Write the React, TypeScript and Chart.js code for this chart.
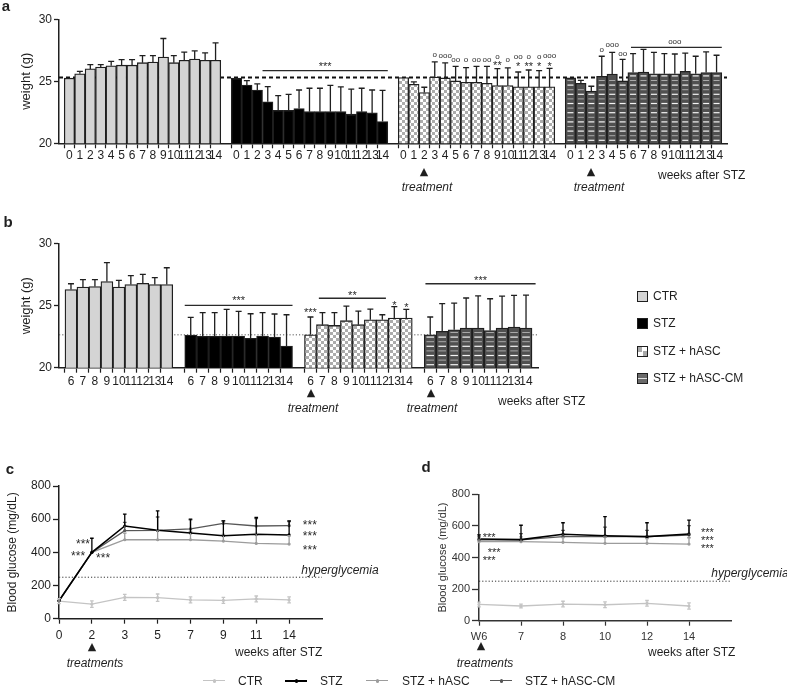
import React, { useEffect, useRef } from 'react';
import { Chart, registerables } from 'chart.js';

Chart.register(...registerables);

const FONT = '"Liberation Sans", Arial, Helvetica, sans-serif';
const INK = '#1f1f1f';
const CLEAR = 'rgba(0,0,0,0)';

// ---------- Panel a : body weight (g), weeks 0-14 ----------
const weeksA = ['0', '1', '2', '3', '4', '5', '6', '7', '8', '9', '10', '11', '12', '13', '14'];
const ctrWeightA = [25.25, 25.6, 26.0, 26.15, 26.25, 26.3, 26.3, 26.5, 26.55, 26.95, 26.5, 26.7, 26.8, 26.7, 26.7];
const ctrSdA = [0, 0.2, 0.35, 0.2, 0.35, 0.45, 0.45, 0.57, 0.52, 1.5, 0.57, 0.65, 0.65, 0.6, 1.4];
const stzWeightA = [25.25, 24.7, 24.3, 23.35, 22.65, 22.65, 22.8, 22.55, 22.55, 22.55, 22.55, 22.35, 22.55, 22.45, 21.75];
const stzSdA = [0, 0.35, 0.5, 1.22, 1.2, 1.3, 1.5, 1.89, 1.89, 2.12, 2.0, 2.02, 1.89, 1.85, 2.52];
const hascWeightA = [25.3, 24.75, 24.1, 25.35, 25.27, 25.03, 24.92, 24.92, 24.84, 24.65, 24.65, 24.55, 24.55, 24.55, 24.55];
const hascSdA = [0, 0.2, 0.42, 1.21, 1.21, 1.17, 1.18, 1.28, 1.36, 1.37, 1.43, 1.2, 1.36, 1.31, 1.5];
const cmWeightA = [25.27, 24.84, 24.22, 25.4, 25.59, 25.03, 25.7, 25.75, 25.6, 25.6, 25.6, 25.8, 25.6, 25.7, 25.7];
const cmSdA = [0, 0.24, 0.38, 1.62, 1.75, 1.74, 1.53, 1.83, 1.74, 1.63, 1.6, 1.48, 1.42, 1.67, 1.4];
const baselineA = 25.3;

// ---------- Panel b : body weight (g), weeks 6-14 ----------
const weeksB = ['6', '7', '8', '9', '10', '11', '12', '13', '14'];
const ctrWeightB = [26.3, 26.5, 26.55, 26.95, 26.5, 26.7, 26.8, 26.7, 26.7];
const ctrSdB = [0.47, 0.6, 0.55, 1.52, 0.54, 0.72, 0.73, 0.56, 1.36];
const stzWeightB = [22.63, 22.53, 22.53, 22.55, 22.55, 22.37, 22.55, 22.47, 21.75];
const stzSdB = [1.43, 1.91, 1.91, 2.15, 1.99, 1.98, 1.89, 1.86, 2.52];
const hascWeightB = [22.65, 23.47, 23.41, 23.79, 23.47, 23.87, 23.87, 24.0, 24.0];
const hascSdB = [1.44, 0.97, 1.03, 1.18, 1.1, 0.86, 0.4, 0.92, 0.7];
const cmWeightB = [22.66, 22.93, 23.06, 23.2, 23.2, 23.0, 23.2, 23.28, 23.2];
const cmSdB = [1.43, 2.23, 2.14, 2.42, 2.6, 2.56, 2.58, 2.55, 2.66];
const baselineB = 22.65;

// ---------- Panel c : blood glucose (mg/dL) ----------
const weeksC = ['0', '2', '3', '5', '7', '9', '11', '14'];
const ctrGlucC = [106, 88, 129, 127, 113, 110, 119, 113];
const ctrSdC = [15, 20, 18, 22, 18, 18, 18, 18];
const stzGlucC = [108, 400, 559, 533, 517, 500, 509, 505];
const stzSdC = [0, 85, 72, 117, 83, 90, 101, 85];
const hascGlucC = [108, 400, 476, 476, 476, 468, 454, 450];
const hascSdC = [0, 0, 40, 60, 50, 40, 60, 50];
const cmGlucC = [108, 400, 531, 533, 541, 575, 559, 561];
const cmSdC = [0, 0, 50, 80, 55, 15, 45, 25];

// ---------- Panel d : blood glucose (mg/dL) from week 6 ----------
const weeksD = ['W6', '7', '8', '10', '12', '14'];
const ctrGlucD = [103, 93, 105, 101, 110, 93];
const ctrSdD = [15, 12, 18, 18, 18, 20];
const stzGlucD = [517, 513, 547, 538, 532, 549];
const stzSdD = [26, 91, 73, 121, 88, 88];
const hascGlucD = [500, 500, 496, 490, 490, 485];
const hascSdD = [20, 30, 30, 40, 30, 40];
const cmGlucD = [511, 511, 532, 532, 532, 542];
const cmSdD = [20, 40, 40, 60, 40, 60];

const hyperglycemia = 250;

// ---------- significance annotations (x in bar/point index units, y in data units) ----------
type Note = { x: number; y: number; t: string };
type Sig = { x1: number; x2: number; y: number };

const notesA: Note[] = [
  { x: 24.5, y: 26.4, t: '***' },
  { x: 35, y: 27.12, t: 'o' },
  { x: 36, y: 27.04, t: 'ooo' },
  { x: 37, y: 26.72, t: 'oo' },
  { x: 38, y: 26.72, t: 'o' },
  { x: 39, y: 26.72, t: 'oo' },
  { x: 40, y: 26.72, t: 'oo' },
  { x: 41, y: 26.96, t: 'o' },
  { x: 41, y: 26.45, t: '**' },
  { x: 42, y: 26.72, t: 'o' },
  { x: 43, y: 26.96, t: 'oo' },
  { x: 43, y: 26.4, t: '*' },
  { x: 44, y: 26.96, t: 'o' },
  { x: 44, y: 26.4, t: '**' },
  { x: 45, y: 26.96, t: 'o' },
  { x: 45, y: 26.4, t: '*' },
  { x: 46, y: 27.04, t: 'ooo' },
  { x: 46, y: 26.4, t: '*' },
  { x: 51, y: 27.52, t: 'o' },
  { x: 52, y: 27.93, t: 'ooo' },
  { x: 53, y: 27.2, t: 'oo' },
  { x: 58, y: 28.15, t: 'ooo' },
];
const sigA: Sig[] = [
  { x1: 18.5, x2: 30.5, y: 25.86 },
  { x1: 53.8, x2: 62.5, y: 27.74 },
];

const notesB: Note[] = [
  { x: 14, y: 25.6, t: '***' },
  { x: 20, y: 24.65, t: '***' },
  { x: 23.5, y: 26.0, t: '**' },
  { x: 27, y: 25.2, t: '*' },
  { x: 28, y: 25.05, t: '*' },
  { x: 34.2, y: 27.26, t: '***' },
];
const sigB: Sig[] = [
  { x1: 9.5, x2: 18.5, y: 25.03 },
  { x1: 20.7, x2: 26.3, y: 25.6 },
  { x1: 29.6, x2: 38.8, y: 26.77 },
];

const notesC: Note[] = [
  { x: 0.73, y: 462, t: '***' },
  { x: 0.58, y: 390, t: '***' },
  { x: 1.34, y: 378, t: '***' },
  { x: 7.63, y: 577, t: '***' },
  { x: 7.63, y: 511, t: '***' },
  { x: 7.63, y: 426, t: '***' },
];
const notesD: Note[] = [
  { x: 0.24, y: 542, t: '***' },
  { x: 0.36, y: 447, t: '***' },
  { x: 0.24, y: 397, t: '***' },
  { x: 5.44, y: 574, t: '***' },
  { x: 5.44, y: 523, t: '***' },
  { x: 5.44, y: 473, t: '***' },
];

// ---------- helpers ----------
function checkerPattern(): any {
  const c = document.createElement('canvas');
  c.width = 6;
  c.height = 6;
  const g = c.getContext('2d');
  if (!g) return '#cccccc';
  g.fillStyle = '#ffffff';
  g.fillRect(0, 0, 6, 6);
  g.fillStyle = '#acacac';
  g.fillRect(0, 0, 3, 3);
  g.fillRect(3, 3, 3, 3);
  return g.createPattern(c, 'repeat') || '#cccccc';
}

function drawNotes(ctx: CanvasRenderingContext2D, xs: any, ys: any, notes: Note[], starSize: number) {
  notes.forEach((n) => {
    const ring = /^o+$/.test(n.t);
    ctx.font = ring ? `8px ${FONT}` : `${starSize}px ${FONT}`;
    ctx.fillStyle = '#2a2a2a';
    ctx.textAlign = 'center';
    ctx.textBaseline = 'middle';
    ctx.fillText(n.t, xs.getPixelForValue(n.x), ys.getPixelForValue(n.y) + (ring ? 0 : 3));
  });
}

type Group = { name: string; mean: number[]; sd: number[]; fill: any; stripes?: boolean };

function barConfig(o: {
  labels: string[];
  groups: Group[];
  ref: number;
  refDash: number[];
  refWidth: number;
  refColor: string;
  notes: Note[];
  sig: Sig[];
  padTop: number;
  padRight: number;
  xHeight: number;
  tickPad: number;
}): any {
  const n = o.labels.length;
  const slot = n + 1;
  const xmax = o.groups.length * slot - 1;
  const labelAt: Record<string, string> = {};
  const datasets = o.groups.map((g, gi) => {
    g.mean.forEach((_, i) => {
      labelAt[String(gi * slot + i)] = o.labels[i];
    });
    return {
      label: g.name,
      data: g.mean.map((v, i) => ({ x: gi * slot + i, y: v })),
      backgroundColor: g.fill,
      borderColor: INK,
      borderWidth: 1.3,
      grouped: false,
      barPercentage: 1,
      categoryPercentage: 1,
      sd: g.sd,
      stripes: !!g.stripes,
    };
  });

  const decor = {
    id: 'barDecor',
    beforeDatasetsDraw(chart: any) {
      const { ctx, chartArea: a, scales } = chart;
      const py = scales.y.getPixelForValue(o.ref);
      ctx.save();
      ctx.setLineDash(o.refDash);
      ctx.lineWidth = o.refWidth;
      ctx.strokeStyle = o.refColor;
      ctx.beginPath();
      ctx.moveTo(a.left, py);
      ctx.lineTo(a.right, py);
      ctx.stroke();
      ctx.restore();
    },
    afterDatasetsDraw(chart: any) {
      const { ctx, scales, chartArea } = chart;
      const xs = scales.x;
      const ys = scales.y;
      ctx.save();
      chart.data.datasets.forEach((ds: any, di: number) => {
        const meta = chart.getDatasetMeta(di);
        meta.data.forEach((el: any, i: number) => {
          const p = el.getProps(['x', 'y', 'base', 'width'], true);
          const base = Math.min(p.base, chartArea.bottom);
          if (ds.stripes) {
            let k = 0;
            for (let yy = base - 3; yy > p.y + 2; yy -= 4.6) {
              ctx.strokeStyle = k % 2 === 0 ? '#f4f4f4' : '#a8a8a8';
              ctx.lineWidth = k % 2 === 0 ? 1.2 : 1;
              ctx.beginPath();
              ctx.moveTo(p.x - p.width / 2 + 2.2, yy);
              ctx.lineTo(p.x + p.width / 2 - 2.2, yy);
              ctx.stroke();
              k++;
            }
          }
          const sd = ds.sd[i];
          if (sd > 0) {
            const top = ys.getPixelForValue(ds.data[i].y + sd);
            ctx.strokeStyle = INK;
            ctx.lineWidth = 1.3;
            ctx.beginPath();
            ctx.moveTo(p.x, p.y);
            ctx.lineTo(p.x, top);
            ctx.moveTo(p.x - 3, top);
            ctx.lineTo(p.x + 3, top);
            ctx.stroke();
          }
        });
      });
      ctx.strokeStyle = '#2a2a2a';
      ctx.lineWidth = 1.3;
      o.sig.forEach((s) => {
        const py = ys.getPixelForValue(s.y);
        ctx.beginPath();
        ctx.moveTo(xs.getPixelForValue(s.x1), py);
        ctx.lineTo(xs.getPixelForValue(s.x2), py);
        ctx.stroke();
      });
      drawNotes(ctx, xs, ys, o.notes, 11);
      ctx.restore();
    },
  };

  return {
    type: 'bar',
    data: { datasets },
    plugins: [decor],
    options: {
      responsive: false,
      maintainAspectRatio: false,
      animation: false,
      events: [],
      layout: { padding: { top: o.padTop, right: o.padRight, left: 0, bottom: 0 } },
      plugins: { legend: { display: false }, tooltip: { enabled: false } },
      scales: {
        x: {
          type: 'linear',
          min: -1,
          max: xmax,
          offset: false,
          grid: {
            drawOnChartArea: false,
            tickLength: 5,
            tickWidth: 1.2,
            tickColor: (c: any) => (c.tick && labelAt[String(c.tick.value)] !== undefined ? INK : CLEAR),
          },
          border: { color: INK, width: 1.5 },
          ticks: {
            stepSize: 1,
            maxTicksLimit: 200,
            autoSkip: false,
            maxRotation: 0,
            minRotation: 0,
            padding: o.tickPad,
            color: INK,
            font: { family: FONT, size: 12 },
            callback: (v: any) => labelAt[String(v)] ?? '',
          },
          afterFit: (s: any) => {
            s.height = o.xHeight;
          },
        },
        y: {
          min: 20,
          max: 30,
          beginAtZero: false,
          ticks: { stepSize: 5, padding: 2, color: INK, font: { family: FONT, size: 12 } },
          grid: { drawOnChartArea: false, tickLength: 5, tickWidth: 1.3, tickColor: INK },
          border: { color: INK, width: 1.5 },
          title: {
            display: true,
            text: 'weight (g)',
            color: INK,
            font: { family: FONT, size: 13 },
            padding: { top: 19, bottom: 0 },
          },
          afterFit: (s: any) => {
            s.width = 59;
          },
        },
      },
    },
  };
}

type Series = { name: string; data: number[]; sd: number[]; color: string; width: number; both?: boolean };

function lineConfig(o: {
  labels: string[];
  series: Series[];
  notes: Note[];
  padTop: number;
  padRight: number;
  yWidth: number;
  xHeight: number;
  tickPad: number;
  yTickLen: number;
  fontSize: number;
  axisColor: string;
  titlePad: number;
}): any {
  const nLab = o.labels.length;
  const decor = {
    id: 'lineDecor',
    beforeDatasetsDraw(chart: any) {
      const { ctx, chartArea: a, scales } = chart;
      const py = scales.y.getPixelForValue(hyperglycemia);
      ctx.save();
      ctx.setLineDash([1.2, 2]);
      ctx.lineWidth = 1;
      ctx.strokeStyle = '#333';
      ctx.beginPath();
      ctx.moveTo(a.left, py);
      ctx.lineTo(a.right, py);
      ctx.stroke();
      ctx.restore();
    },
    afterDatasetsDraw(chart: any) {
      const { ctx, scales } = chart;
      const ys = scales.y;
      ctx.save();
      for (let di = chart.data.datasets.length - 1; di >= 0; di--) {
        const ds: any = chart.data.datasets[di];
        const meta = chart.getDatasetMeta(di);
        ctx.strokeStyle = ds.borderColor;
        ctx.lineWidth = 1.3;
        meta.data.forEach((el: any, i: number) => {
          const sd = ds.sd[i];
          if (!(sd > 0)) return;
          const v = ds.data[i];
          const top = ys.getPixelForValue(v + sd);
          const bot = ds.both ? ys.getPixelForValue(v - sd) : el.y;
          ctx.beginPath();
          ctx.moveTo(el.x, bot);
          ctx.lineTo(el.x, top);
          ctx.moveTo(el.x - 1.8, top);
          ctx.lineTo(el.x + 1.8, top);
          if (ds.both) {
            ctx.moveTo(el.x - 1.8, bot);
            ctx.lineTo(el.x + 1.8, bot);
          }
          ctx.stroke();
        });
      }
      drawNotes(ctx, scales.x, ys, o.notes, o.fontSize);
      ctx.restore();
    },
  };

  return {
    type: 'line',
    data: {
      labels: [...o.labels, ''],
      datasets: o.series.map((s) => ({
        label: s.name,
        data: s.data,
        sd: s.sd,
        both: !!s.both,
        borderColor: s.color,
        backgroundColor: s.color,
        borderWidth: s.width,
        pointRadius: 1.6,
        pointBorderWidth: 0,
        pointBackgroundColor: s.color,
        tension: 0,
        fill: false,
      })),
    },
    plugins: [decor],
    options: {
      responsive: false,
      maintainAspectRatio: false,
      animation: false,
      events: [],
      layout: { padding: { top: o.padTop, right: o.padRight, left: 0, bottom: 0 } },
      plugins: { legend: { display: false }, tooltip: { enabled: false } },
      scales: {
        x: {
          type: 'category',
          offset: false,
          grid: {
            drawOnChartArea: false,
            tickLength: 5,
            tickWidth: 1.2,
            tickColor: (c: any) => (c.index < nLab ? o.axisColor : CLEAR),
          },
          border: { color: o.axisColor, width: 1.5 },
          ticks: {
            autoSkip: false,
            maxRotation: 0,
            minRotation: 0,
            padding: o.tickPad,
            color: o.axisColor,
            font: { family: FONT, size: o.fontSize },
          },
          afterFit: (s: any) => {
            s.height = o.xHeight;
          },
        },
        y: {
          min: 0,
          max: 800,
          ticks: { stepSize: 200, padding: 2, color: o.axisColor, font: { family: FONT, size: o.fontSize } },
          grid: { drawOnChartArea: false, tickLength: o.yTickLen, tickWidth: 1.3, tickColor: o.axisColor },
          border: { color: o.axisColor, width: 1.5 },
          title: {
            display: true,
            text: 'Blood glucose (mg/dL)',
            color: o.axisColor,
            font: { family: FONT, size: o.fontSize },
            padding: { top: o.titlePad, bottom: 0 },
          },
          afterFit: (s: any) => {
            s.width = o.yWidth;
          },
        },
      },
    },
  };
}

function ChartCanvas(props: { left: number; top: number; width: number; height: number; make: () => any }) {
  const ref = useRef<HTMLCanvasElement>(null);
  useEffect(() => {
    if (!ref.current) return;
    const chart = new Chart(ref.current, props.make());
    return () => chart.destroy();
  }, []);
  return (
    <canvas
      ref={ref}
      width={props.width}
      height={props.height}
      style={{ position: 'absolute', left: props.left, top: props.top, width: props.width, height: props.height }}
    />
  );
}

const C_CTR = '#c4c4c4';
const C_STZ = '#000000';
const C_HASC = '#9c9c9c';
const C_CM = '#575757';

function makeA() {
  const checker = checkerPattern();
  return barConfig({
    labels: weeksA,
    groups: [
      { name: 'CTR', mean: ctrWeightA, sd: ctrSdA, fill: '#d4d4d4' },
      { name: 'STZ', mean: stzWeightA, sd: stzSdA, fill: '#000000' },
      { name: 'STZ + hASC', mean: hascWeightA, sd: hascSdA, fill: checker },
      { name: 'STZ + hASC-CM', mean: cmWeightA, sd: cmSdA, fill: '#505050', stripes: true },
    ],
    ref: baselineA,
    refDash: [4, 3],
    refWidth: 2,
    refColor: '#111',
    notes: notesA,
    sig: sigA,
    padTop: 19.3,
    padRight: 60,
    xHeight: 56.7,
    tickPad: 0,
  });
}

function makeB() {
  const checker = checkerPattern();
  return barConfig({
    labels: weeksB,
    groups: [
      { name: 'CTR', mean: ctrWeightB, sd: ctrSdB, fill: '#d4d4d4' },
      { name: 'STZ', mean: stzWeightB, sd: stzSdB, fill: '#000000' },
      { name: 'STZ + hASC', mean: hascWeightB, sd: hascSdB, fill: checker },
      { name: 'STZ + hASC-CM', mean: cmWeightB, sd: cmSdB, fill: '#505050', stripes: true },
    ],
    ref: baselineB,
    refDash: [1.2, 2],
    refWidth: 1,
    refColor: '#555',
    notes: notesB,
    sig: sigB,
    padTop: 43.7,
    padRight: 249,
    xHeight: 42.3,
    tickPad: 2,
  });
}

function makeC() {
  return lineConfig({
    labels: weeksC,
    series: [
      { name: 'STZ', data: stzGlucC, sd: stzSdC, color: C_STZ, width: 1.6 },
      { name: 'STZ + hASC-CM', data: cmGlucC, sd: cmSdC, color: C_CM, width: 1.3 },
      { name: 'STZ + hASC', data: hascGlucC, sd: hascSdC, color: C_HASC, width: 1.3 },
      { name: 'CTR', data: ctrGlucC, sd: ctrSdC, color: C_CTR, width: 1.3, both: true },
    ],
    notes: notesC,
    padTop: 46,
    padRight: 78,
    yWidth: 59,
    xHeight: 36.3,
    tickPad: 5,
    yTickLen: 6,
    fontSize: 12,
    axisColor: INK,
    titlePad: 5.8,
  });
}

function makeD() {
  return lineConfig({
    labels: weeksD,
    series: [
      { name: 'STZ', data: stzGlucD, sd: stzSdD, color: C_STZ, width: 1.6 },
      { name: 'STZ + hASC-CM', data: cmGlucD, sd: cmSdD, color: C_CM, width: 1.3 },
      { name: 'STZ + hASC', data: hascGlucD, sd: hascSdD, color: C_HASC, width: 1.3 },
      { name: 'CTR', data: ctrGlucD, sd: ctrSdD, color: C_CTR, width: 1.3, both: true },
    ],
    notes: notesD,
    padTop: 54.3,
    padRight: 56,
    yWidth: 89,
    xHeight: 34.3,
    tickPad: 4.5,
    yTickLen: 7,
    fontSize: 11,
    axisColor: '#333',
    titlePad: 46.4,
  });
}

function Txt(props: { x: number; y: number; children: any; left?: boolean; style?: any }) {
  return (
    <div
      style={{
        position: 'absolute',
        left: props.x,
        top: props.y,
        transform: props.left ? 'translate(0,-50%)' : 'translate(-50%,-50%)',
        whiteSpace: 'nowrap',
        font: `12px ${FONT}`,
        color: INK,
        lineHeight: 1.2,
        ...(props.style || {}),
      }}
    >
      {props.children}
    </div>
  );
}

const italic = { fontStyle: 'italic' };
const bold = { fontWeight: 'bold', fontSize: 15 };
const tri = { fontSize: 11, fontFamily: '"DejaVu Sans", sans-serif' };

function Swatch(props: { y: number; bg: string; label: string }) {
  return (
    <>
      <div
        style={{
          position: 'absolute',
          left: 637,
          top: props.y - 5.5,
          width: 11,
          height: 11,
          boxSizing: 'border-box',
          border: `1px solid ${INK}`,
          background: props.bg,
        }}
      />
      <Txt x={653} y={props.y} left>
        {props.label}
      </Txt>
    </>
  );
}

function LineKey(props: { x: number; color: string; label: string; textX: number; width?: number }) {
  return (
    <>
      <div
        style={{
          position: 'absolute',
          left: props.x,
          top: 680,
          width: 22,
          height: props.width || 1.4,
          background: props.color,
        }}
      />
      <div
        style={{
          position: 'absolute',
          left: props.x + 9.5,
          top: 679,
          width: 3.5,
          height: 3.5,
          borderRadius: 2,
          background: props.color,
        }}
      />
      <Txt x={props.textX} y={681} left>
        {props.label}
      </Txt>
    </>
  );
}

export default function App() {
  return (
    <div style={{ position: 'absolute', left: 0, top: 0, width: 787, height: 695, background: '#fff', overflow: 'hidden' }}>
      <ChartCanvas left={0} top={0} width={787} height={200} make={makeA} />
      <ChartCanvas left={0} top={200} width={787} height={210} make={makeB} />
      <ChartCanvas left={0} top={440} width={400} height={215} make={makeC} />
      <ChartCanvas left={390} top={440} width={397} height={215} make={makeD} />

      {/* panel letters */}
      <Txt x={6} y={6} style={bold}>a</Txt>
      <Txt x={8} y={222} style={bold}>b</Txt>
      <Txt x={10} y={469} style={bold}>c</Txt>
      <Txt x={426} y={467} style={bold}>d</Txt>

      {/* panel a notes */}
      <Txt x={424} y={172} style={tri}>▲</Txt>
      <Txt x={427} y={187} style={italic}>treatment</Txt>
      <Txt x={591} y={172} style={tri}>▲</Txt>
      <Txt x={599} y={187} style={italic}>treatment</Txt>
      <Txt x={658} y={175} left>weeks after STZ</Txt>

      {/* panel b notes */}
      <Txt x={311} y={393} style={tri}>▲</Txt>
      <Txt x={313} y={408} style={italic}>treatment</Txt>
      <Txt x={431} y={393} style={tri}>▲</Txt>
      <Txt x={432} y={408} style={italic}>treatment</Txt>
      <Txt x={498} y={401} left>weeks after STZ</Txt>

      {/* legend of the bar panels */}
      <Swatch y={296} bg="#d4d4d4" label="CTR" />
      <Swatch y={323} bg="#000" label="STZ" />
      <Swatch y={351} bg="repeating-conic-gradient(#ffffff 0 25%, #a8a8a8 0 50%) 0 0 / 9px 9px" label="STZ + hASC" />
      <Swatch y={378} bg="linear-gradient(#6a6a6a 0 42%, #e0e0e0 42% 60%, #6a6a6a 60%)" label="STZ + hASC-CM" />

      {/* panel c notes */}
      <Txt x={340} y={570} style={italic}>hyperglycemia</Txt>
      <Txt x={92} y={647} style={tri}>▲</Txt>
      <Txt x={95} y={663} style={italic}>treatments</Txt>
      <Txt x={235} y={652} left>weeks after STZ</Txt>

      {/* panel d notes */}
      <Txt x={750} y={573} style={italic}>hyperglycemia</Txt>
      <Txt x={481} y={646} style={tri}>▲</Txt>
      <Txt x={485} y={663} style={italic}>treatments</Txt>
      <Txt x={648} y={652} left>weeks after STZ</Txt>

      {/* legend of the line panels */}
      <LineKey x={203} color={C_CTR} label="CTR" textX={238} />
      <LineKey x={285} color={C_STZ} label="STZ" textX={320} width={1.8} />
      <LineKey x={366} color={C_HASC} label="STZ + hASC" textX={402} />
      <LineKey x={490} color={C_CM} label="STZ + hASC-CM" textX={525} />
    </div>
  );
}
